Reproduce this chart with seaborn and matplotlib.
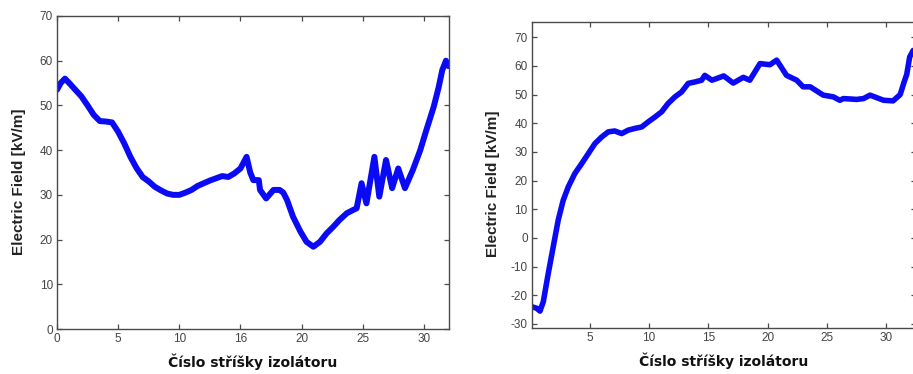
import matplotlib
matplotlib.use("Agg")
import matplotlib.pyplot as plt
import seaborn as sns
import pandas as pd

sns.set_theme(style="white")
plt.rcParams["font.family"] = ["Liberation Sans", "DejaVu Sans"]

# Electric field along the insulator, first configuration
left_x = [0.0, 0.3, 0.65, 1.0, 1.5, 2.0, 2.5, 3.0, 3.5, 4.0, 4.5, 5.0, 5.5, 6.0,
          6.5, 7.0, 7.5, 8.0, 8.5, 9.0, 9.5, 10.0, 10.5, 11.0, 11.5, 12.0, 12.5,
          13.0, 13.5, 14.0, 14.5, 15.0, 15.5, 15.8, 16.05, 16.5, 16.6, 17.1, 17.7,
          18.2, 18.5, 18.8, 19.3, 19.9, 20.4, 20.96, 21.5, 22.05, 22.6, 23.1, 23.7,
          24.2, 24.5, 24.9, 25.3, 25.95, 26.35, 26.9, 27.4, 27.9, 28.45, 29.1,
          29.7, 30.2, 30.8, 31.2, 31.5, 31.8, 32.0]
left_e = [53.5, 55.0, 56.0, 55.0, 53.5, 52.0, 50.0, 47.9, 46.5, 46.4, 46.2, 44.1,
          41.5, 38.5, 36.0, 34.0, 33.0, 31.8, 31.0, 30.3, 30.0, 30.0, 30.5, 31.1,
          32.0, 32.6, 33.2, 33.7, 34.2, 34.0, 34.8, 35.9, 38.5, 35.0, 33.3, 33.3,
          31.1, 29.2, 31.1, 31.1, 30.5, 28.9, 25.1, 21.8, 19.5, 18.4, 19.5, 21.4,
          22.9, 24.4, 25.9, 26.6, 27.0, 32.6, 28.1, 38.5, 29.6, 37.8, 31.5, 35.9,
          31.5, 35.6, 40.0, 44.5, 49.7, 54.0, 57.9, 60.0, 58.8]

# Electric field along the insulator, second configuration
right_x = [0.1, 0.5, 0.78, 1.06, 1.48, 1.9, 2.32, 2.74, 3.17, 3.73, 4.3, 4.86,
           5.42, 5.99, 6.55, 7.1, 7.68, 8.24, 8.8, 9.37, 9.93, 10.5, 11.06, 11.6,
           12.18, 12.74, 13.3, 13.87, 14.43, 14.7, 15.3, 16.3, 17.1, 17.95, 18.5,
           19.36, 20.2, 20.77, 21.6, 22.46, 23.0, 23.6, 24.7, 25.55, 26.1, 26.4,
           27.2, 27.5, 28.1, 28.65, 29.8, 30.6, 31.2, 31.5, 31.75, 32.0, 32.3]
right_e = [-24.0, -24.5, -25.5, -22.3, -12.4, -3.1, 6.2, 13.1, 17.8, 22.5, 25.9,
           29.4, 32.9, 35.2, 37.0, 37.3, 36.4, 37.6, 38.2, 38.7, 40.5, 42.2, 44.0,
           46.9, 49.2, 50.9, 53.9, 54.4, 55.0, 56.7, 55.0, 56.5, 54.0, 56.0, 55.0,
           60.8, 60.4, 62.0, 56.7, 55.0, 52.7, 52.7, 49.8, 49.2, 48.0, 48.6, 48.4,
           48.3, 48.6, 49.8, 48.0, 47.8, 50.0, 54.0, 57.0, 63.1, 65.4]

left_xticks = [0, 5, 10, 15, 20, 25, 30]
left_xticklabels = ["0", "5", "10", "16", "20", "25", "30"]
left_yticks = [0, 10, 20, 30, 40, 50, 60, 70]
right_xticks = [5, 10, 15, 20, 25, 30]
right_yticks = [-30, -20, -10, 0, 10, 20, 30, 40, 50, 60, 70]

xlabel = "Číslo stříšky izolátoru"
ylabel = "Electric Field [kV/m]"

W, H = 913, 374
fig = plt.figure(figsize=(W / 100, H / 100), dpi=100)

def px_axes(x0, x1, ytop, ybot):
    return fig.add_axes([x0 / W, 1 - ybot / H, (x1 - x0) / W, (ybot - ytop) / H])

ax1 = px_axes(57, 449, 16, 329)
ax2 = px_axes(531.9, 915.6, 22, 328)

line_color = "#0a0af5"
df1 = pd.DataFrame({"x": left_x, "E": left_e})
df2 = pd.DataFrame({"x": right_x, "E": right_e})
sns.lineplot(data=df1, x="x", y="E", ax=ax1, color=line_color, lw=4.3,
             estimator=None, sort=False)
sns.lineplot(data=df2, x="x", y="E", ax=ax2, color=line_color, lw=4.0,
             estimator=None, sort=False)

ax1.set_xlim(0, 32.05)
ax1.set_ylim(0, 70)
ax1.set_xticks(left_xticks)
ax1.set_xticklabels(left_xticklabels)
ax1.set_yticks(left_yticks)

ax2.set_xlim(0.1, 32.5)
ax2.set_ylim(-31.4, 75.3)
ax2.set_xticks(right_xticks)
ax2.set_yticks(right_yticks)
ax2.set_yticklabels([str(v) for v in right_yticks])

for ax in (ax1, ax2):
    for sp in ax.spines.values():
        sp.set_visible(True)
        sp.set_color("#4a4a4a")
        sp.set_linewidth(1.0)
    ax.tick_params(direction="in", length=3.5, width=0.9, color="#4a4a4a",
                   top=True, right=True, bottom=True, left=True,
                   labelsize=8.5, labelcolor="#444444", pad=3)
    ax.set_xlabel(xlabel, fontsize=10, fontweight="bold", color="#111111",
                  family=["DejaVu Sans"], labelpad=6)
    ax.set_ylabel(ylabel, fontsize=11, fontweight="bold", color="#222222")
    ax.grid(False)

# y-label placement, slightly below the axes centre
ax1.yaxis.set_label_coords(-0.078, 0.47)
ax2.yaxis.set_label_coords(-0.084, 0.47)

fig.savefig("out.png", dpi=100)
